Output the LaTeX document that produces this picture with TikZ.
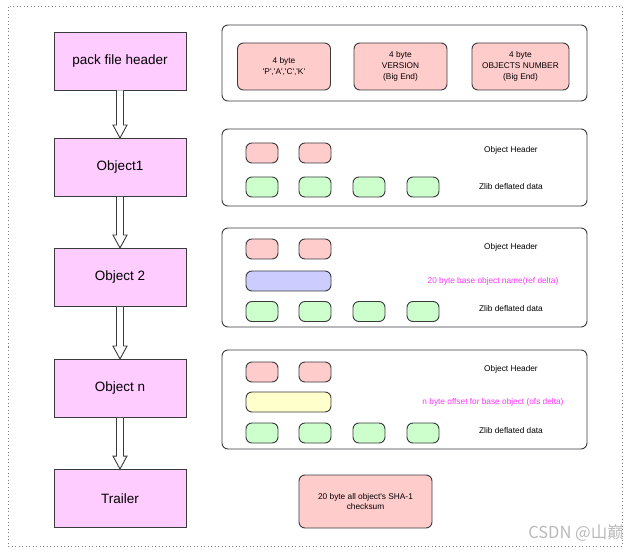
\documentclass[tikz,border=0pt]{standalone}
\usepackage{fontspec}
\setmainfont{Liberation Sans}
\newfontfamily\cjkfont{Noto Sans CJK SC}
\usetikzlibrary{calc}

\definecolor{edge}{HTML}{3A3A3D}
\definecolor{packpink}{HTML}{FFCCFF}
\definecolor{redcell}{HTML}{FFCCCC}
\definecolor{greencell}{HTML}{CCFFCC}
\definecolor{bluecell}{HTML}{CCCCFF}
\definecolor{yellowcell}{HTML}{FFFFCC}
\definecolor{deltatext}{HTML}{FF33FF}

\newcommand\sq{\textquotesingle}
\newcommand\flowarrow[2]{%
  \draw[edge,line width=0.9pt,fill=white] ($(#1.south)+(-3.5,0)$) -- ($(#2.north)+(-3.5,-13)$)
    -- ++(-3.5,0) -- (#2.north) -- ($(#2.north)+(7,-13)$) -- ++(-3.5,0)
    -- ($(#1.south)+(3.5,0)$);}

\begin{document}
\begin{tikzpicture}[x=1pt,y=-1pt,
    part/.style={draw=edge,fill=packpink,line width=0.9pt,minimum width=132pt,
      minimum height=58pt,font=\fontsize{13.5}{16}\selectfont},
    frame/.style={draw=edge,rounded corners=6pt,line width=0.9pt,minimum width=365pt,inner sep=0pt},
    cell/.style={draw=edge,rounded corners=6pt,line width=0.9pt,minimum width=32pt,
      minimum height=20pt,inner sep=0pt},
    wide/.style={cell,fill=redcell,minimum width=93pt,minimum height=47pt,align=center,
      font=\fontsize{8.3}{10.8}\selectfont},
    note/.style={font=\fontsize{8.3}{10}\selectfont,align=center}]
  \useasboundingbox (0,0) rectangle (640,553);
  \draw[gray,dash pattern=on 1pt off 2.5pt,line width=1pt] (8,7) rectangle (622,546);

  % left column
  \node[part] (hdr) at (120,61) {pack file header};
  \node[part] (obj1) at (120,167.5) {Object1};
  \node[part] (obj2) at (120,277.5) {Object 2};
  \node[part] (objn) at (120,388.5) {Object n};
  \node[part] (trailer) at (120,498.5) {Trailer};
  \flowarrow{hdr}{obj1}
  \flowarrow{obj1}{obj2}
  \flowarrow{obj2}{objn}
  \flowarrow{objn}{trailer}

  % header
  \node[frame,minimum height=76pt] (hdrbox) at (404.5,63) {};
  \node[wide] (sig) at (284,66.5) {4 byte\\\sq P\sq,\sq A\sq,\sq C\sq,\sq K\sq};
  \node[wide] (ver) at (400.5,66.5) {4 byte\\VERSION\\(Big End)};
  \node[wide,minimum width=97pt] (num) at (520.5,66.5) {4 byte\\OBJECTS NUMBER\\(Big End)};

  % object 1
  \node[frame,minimum height=77pt] (obj1box) at (404.5,167.5) {};
  \foreach \x [count=\i] in {262,315}
    \node[cell,fill=redcell] (oa\i) at (\x,153) {};
  \foreach \x [count=\i] in {262,315,369,423}
    \node[cell,fill=greencell] (da\i) at (\x,187) {};
  \node[note] (oat) at (511,150) {Object Header};
  \node[note] (dat) at (511,187) {Zlib deflated data};

  % object 2, ref delta
  \node[frame,minimum height=99pt] (obj2box) at (404.5,277.5) {};
  \foreach \x [count=\i] in {262,315}
    \node[cell,fill=redcell] (ob\i) at (\x,249) {};
  \node[cell,fill=bluecell,minimum width=85pt] (refb) at (288.5,281) {};
  \foreach \x [count=\i] in {262,315,369,423}
    \node[cell,fill=greencell] (db\i) at (\x,311.5) {};
  \node[note] (obt) at (511,247) {Object Header};
  \node[note,text=deltatext] (refbt) at (493,281) {20 byte base object name(ref delta)};
  \node[note] (dbt) at (511,309) {Zlib deflated data};

  % object n, ofs delta
  \node[frame,minimum height=99pt] (objnbox) at (404.5,399.5) {};
  \foreach \x [count=\i] in {262,315}
    \node[cell,fill=redcell] (oc\i) at (\x,372) {};
  \node[cell,fill=yellowcell,minimum width=85pt] (ofsb) at (288.5,402) {};
  \foreach \x [count=\i] in {262,315,369,423}
    \node[cell,fill=greencell] (dc\i) at (\x,433) {};
  \node[note] (oct) at (511,369) {Object Header};
  \node[note,text=deltatext] (ofsbt) at (493,402) {n byte offset for base object (ofs delta)};
  \node[note] (dct) at (511,431) {Zlib deflated data};

  % trailer
  \node[wide,minimum width=133pt,minimum height=53pt] (sha) at (365.5,501.5)
    {20 byte all object\sq s SHA-1\\checksum};

  \node[text=gray!55,font=\cjkfont\fontsize{16.5}{20}\selectfont,anchor=east,inner sep=0pt]
    (mark) at (624,533) {CSDN @山巅};
\end{tikzpicture}
\end{document}
